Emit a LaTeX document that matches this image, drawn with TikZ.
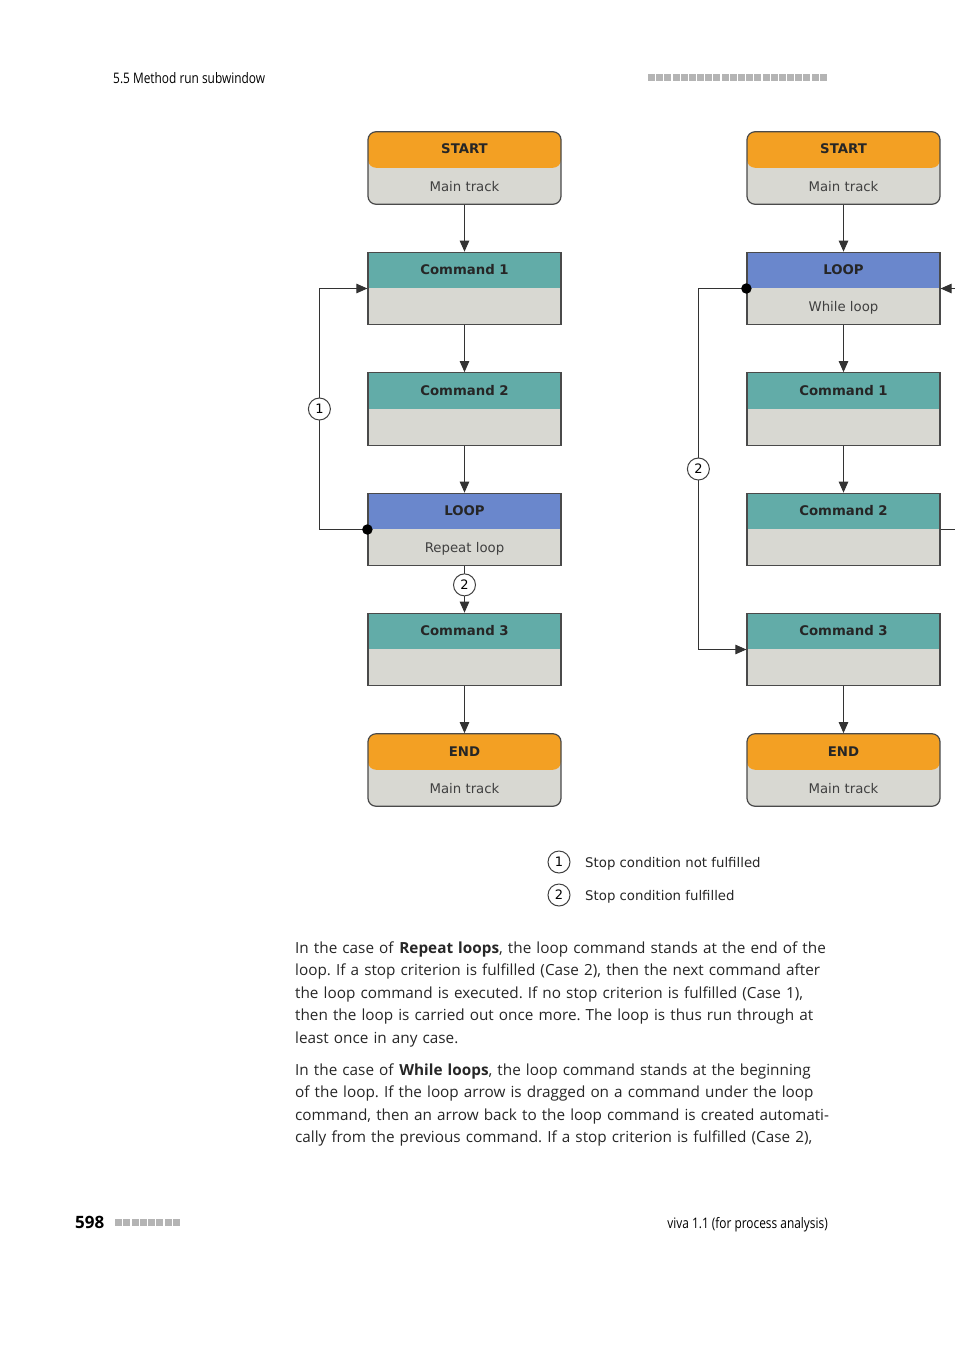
\documentclass[tikz,border=0pt]{standalone}
\usepackage{fontspec}
\setmainfont{Open Sans}
\newfontfamily\boxfont{DejaVu Sans}
\newfontfamily\condfont[FakeStretch=0.82]{Open Sans}
\usetikzlibrary{arrows.meta}
\definecolor{startorange}{HTML}{F3A023}
\definecolor{cmdteal}{HTML}{62ACA8}
\definecolor{loopblue}{HTML}{6A87CC}
\definecolor{boxgray}{HTML}{D8D8D2}
\definecolor{boxline}{HTML}{4A4A4A}
\definecolor{squaregray}{HTML}{B4B4B4}
\tikzset{
  flowbox/.style={draw=boxline, line width=1.2pt, fill=boxgray,
    minimum width=193pt, minimum height=72.5pt, inner sep=0pt},
  roundbox/.style={rounded corners=8pt},
  boxtitle/.style={font=\boxfont\bfseries\fontsize{13.3}{16}\selectfont, text=black!85},
  boxsub/.style={font=\boxfont\fontsize{13.3}{16}\selectfont, text=black!75},
  arr/.style={-{Triangle[length=11pt,width=9.5pt]}, line width=1pt, draw=black!80},
  plainline/.style={line width=1pt, draw=black!80},
  num/.style={circle, draw=black!75, fill=white, line width=1pt, minimum size=22pt,
    inner sep=0pt, font=\boxfont\fontsize{13}{13}\selectfont},
  loopdot/.style={circle, fill=black, minimum size=10.5pt, inner sep=0pt},
  legtext/.style={font=\boxfont\fontsize{13.3}{16}\selectfont, text=black!85, inner sep=0pt},
  bodytext/.style={font=\fontsize{15.3}{22.4}\selectfont, text=black!85, inner sep=0pt,
    text width=620pt, align=left},
  headtext/.style={font=\condfont\fontsize{14.5}{16}\selectfont, inner sep=0pt},
}
% box with coloured title bar: name, position, colour, title, subtitle, extra style
\newcommand\flowbox[6]{%
  \node[flowbox, #6, path picture={\fill[#3] (path picture bounding box.north west)
    rectangle ([yshift=-36pt]path picture bounding box.north east);}] (#1) at #2 {};
  \node[boxtitle] (#1-t) at ([yshift=-18pt]#1.north) {#4};
  \node[boxsub] (#1-s) at ([yshift=18pt]#1.south) {#5};
}
\frenchspacing
\begin{document}
\begin{tikzpicture}[x=1pt,y=-1pt]
  \useasboundingbox (0,0) rectangle (954,1350);
  % page head
  \node[headtext, anchor=base west] (head) at (113,83) {5.5 Method run subwindow};
  \foreach \i in {0,...,21}
    \fill[squaregray] (648+\i*8.18,73.5) rectangle ++(7,7);
  % repeat loop
  \flowbox{rs}{(464.5,168)}{startorange}{START}{Main track}{roundbox}
  \flowbox{rc1}{(464.5,288.5)}{cmdteal}{Command 1}{}{}
  \flowbox{rc2}{(464.5,409)}{cmdteal}{Command 2}{}{}
  \flowbox{rl}{(464.5,529.5)}{loopblue}{LOOP}{Repeat loop}{}
  \flowbox{rc3}{(464.5,649.5)}{cmdteal}{Command 3}{}{}
  \flowbox{re}{(464.5,770)}{startorange}{END}{Main track}{roundbox}
  \draw[arr] (rs) -- (rc1);
  \draw[arr] (rc1) -- (rc2);
  \draw[arr] (rc2) -- (rl);
  \draw[arr] (rl) -- node[num, pos=0.4] (rn2) {2} (rc3);
  \draw[arr] (rc3) -- (re);
  \draw[arr] (rl.west) -- ++(-48,0) |- node[num, pos=0.25] (rn1) {1} (rc1.west);
  \node[loopdot] (rl-dot) at (rl.west) {};
  % while loop
  \flowbox{ws}{(843.5,168)}{startorange}{START}{Main track}{roundbox}
  \flowbox{wl}{(843.5,288.5)}{loopblue}{LOOP}{While loop}{}
  \flowbox{wc1}{(843.5,409)}{cmdteal}{Command 1}{}{}
  \flowbox{wc2}{(843.5,529.5)}{cmdteal}{Command 2}{}{}
  \flowbox{wc3}{(843.5,649.5)}{cmdteal}{Command 3}{}{}
  \flowbox{we}{(843.5,770)}{startorange}{END}{Main track}{roundbox}
  \draw[arr] (ws) -- (wl);
  \draw[arr] (wl) -- (wc1);
  \draw[arr] (wc1) -- (wc2);
  \draw[arr] (wc3) -- (we);
  \draw[arr] (wl.west) -- ++(-48,0) |- node[num, pos=0.25] (wn2) {2} (wc3.west);
  \node[loopdot] (wl-dot) at (wl.west) {};
  \coordinate (wout1) at ([xshift=40pt]wl.east);
  \coordinate (wout2) at ([xshift=40pt]wc2.east);
  \draw[arr] (wout1) -- (wl.east);
  \draw[plainline] (wc2.east) -- (wout2);
  % legend
  \node[num] (lg1) at (559,862) {1};
  \node[legtext, anchor=west] (lg1-t) at (585,864) {Stop condition not fulfilled};
  \node[num] (lg2) at (559,895) {2};
  \node[legtext, anchor=west] (lg2-t) at (585,897) {Stop condition fulfilled};
  % text
  \node[bodytext, anchor=north west] (par1) at (295,941.5) {In the case of \textbf{Repeat loops}, the loop command stands at the end of the\\
    loop. If a stop criterion is fulfilled (Case 2), then the next command after\\
    the loop command is executed. If no stop criterion is fulfilled (Case 1),\\
    then the loop is carried out once more. The loop is thus run through at\\
    least once in any case.};
  \node[bodytext, anchor=north west] (par2) at (295,1063.5) {In the case of \textbf{While loops}, the loop command stands at the beginning\\
    of the loop. If the loop arrow is dragged on a command under the loop\\
    command, then an arrow back to the loop command is created automati-\\
    cally from the previous command. If a stop criterion is fulfilled (Case 2),};
  % page foot
  \node[anchor=base west, inner sep=0pt, font=\bfseries\fontsize{17}{17}\selectfont] (pgnum) at (75,1228) {598};
  \foreach \i in {0,...,7}
    \fill[squaregray] (115+\i*8.25,1218.5) rectangle ++(7,7);
  \node[headtext, anchor=base east] (foot) at (828,1228) {viva 1.1 (for process analysis)};
\end{tikzpicture}
\end{document}
